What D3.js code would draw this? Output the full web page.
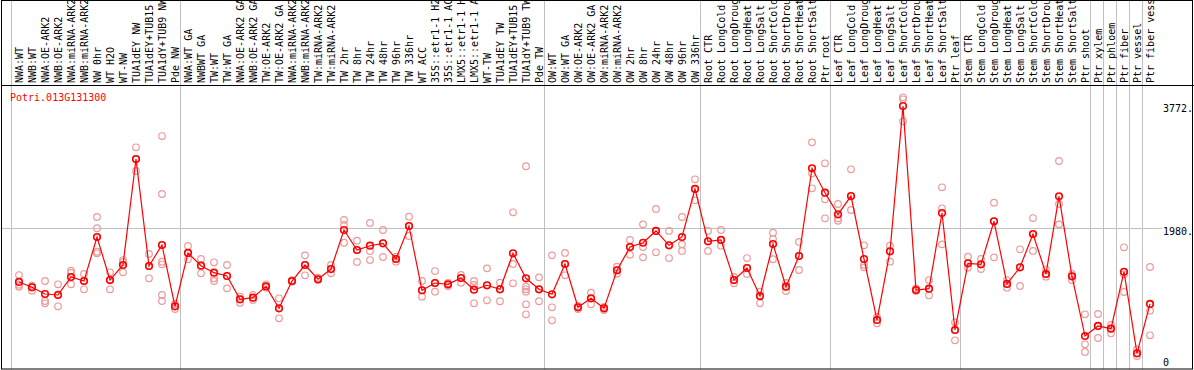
<!DOCTYPE html>
<html>
<head>
<meta charset="utf-8">
<script src="https://cdn.jsdelivr.net/npm/d3@7"></script>
<style>
  body { margin: 0; background: #fff; }
  svg { display: block; }
  text { font-family: "DejaVu Sans Mono", "Liberation Mono", monospace; font-size: 10px; }
</style>
</head>
<body>
<svg width="1194" height="370"></svg>
<script>
// sample names along the top
var categories = ["NWA:WT","NWB:WT","NWA:OE-ARK2","NWB:OE-ARK2","NWA:miRNA-ARK2","NWB:miRNA-ARK2","NW 0hr","WT H2O","WT-NW","TUA1dEY NW","TUA1dEY+TUB15","TUA1dY+TUB9 NW","Pde NW",
  "NWA:WT GA","NWBWT GA","TW:WT","TW:WT GA","NWA:OE-ARK2 GA","NWB:OE-ARK2 GA","TW:OE-ARK2","TW:OE-ARK2 GA","NWA:miRNA-ARK2","NWB:miRNA-ARK2","TW:miRNA-ARK2","TW:miRNA-ARK2","TW 2hr","TW 8hr","TW 24hr","TW 48hr","TW 96hr","TW 336hr","WT ACC","35S::etr1-1 H2","35S::etr1-1 AC","LMX5::etr1-1 H","LMX5::etr1-1 A","WT-TW","TUA1dEY TW","TUA1dEY+TUB15","TUA1dY+TUB9 TW","Pde TW",
  "OW:WT","OW:WT GA","OW:OE-ARK2","OW:OE-ARK2 GA","OW:miRNA-ARK2","OW:miRNA-ARK2","OW 2hr","OW 8hr","OW 24hr","OW 48hr","OW 96hr","OW 336hr",
  "Root CTR","Root LongCold","Root LongDroug","Root LongHeat","Root LongSalt","Root ShortCold","Root ShortDrou","Root ShortHeat","Root ShortSalt","Ptr root",
  "Leaf CTR","Leaf LongCold","Leaf LongDroug","Leaf LongHeat","Leaf LongSalt","Leaf ShortCold","Leaf ShortDrou","Leaf ShortHeat","Leaf ShortSalt","Ptr leaf",
  "Stem CTR","Stem LongCold","Stem LongDroug","Stem LongHeat","Stem LongSalt","Stem ShortCold","Stem ShortDrou","Stem ShortHeat","Stem ShortSalt","Ptr shoot",
  "Ptr xylem","Ptr phloem","Ptr fiber","Ptr vessel","Ptr fiber vess"];

// mean expression per sample
var means = [1200,1123,1026,1012,1272,1214,1850,1228,1445,2977,1431,1734,848,
  1619,1435,1334,1286,949,973,1137,819,1214,1445,1239,1387,1951,1662,1724,1759,1532,2009,1080,1185,1166,1257,1088,1152,1094,1614,1253,1094,
  1022,1460,834,964,819,1369,1705,1767,1937,1730,1850,2544,
  1788,1807,1228,1402,997,1749,1132,1575,2843,2490,
  2178,2442,1532,650,1643,3743,1084,1103,2197,506,
  1470,1455,2077,1171,1412,1893,1315,2438,1282,419,
  564,525,1348,169,882];

// individual replicates per sample
var replicates = [
  [1300,1160,1130],[1146,1074,1127],[1214,925,892],[1166,848,1020],[1363,1330,1166],[1315,1094,1214],[2139,1976,1637,1614],[1340,1094,1228],[1517,1340,1489],[3146,2977,2804],[1604,1253,1431],[3309,2471,1493,1455,1012,925],[882,809,848],
  [1720,1528,1619],[1532,1325,1435],[1484,1253,1214],[1445,1108,1286],[987,900,949],[1012,939,973],[1166,1117,1137],[964,675,819],[1204,1228,1214],[1585,1296,1445],[1262,1228,1239],[1445,1325,1387],[2096,2023,1767],[1796,1489,1662],[2052,1648,1517],[1951,1561,1759],[1565,1493,1532],[2143,1864,2009],[1214,987,1080],[1358,1059,1185],[1185,1142,1166],[1301,1189,1257],[1214,1156,892],[1397,935,1152],[1189,921,1094],[2207,1460,1181],[2872,1132,1094,1059,877,733],[1267,921,1094],
  [1585,834,646],[1619,1296,1460],[853,809,834],[1045,877,964],[838,795,819],[1421,1319,1369],[1807,1594,1705],[2033,1705,1556],[2255,1629,1937],[1937,1546,1730],[2139,1744,1648],[2684,2380,2544],
  [1937,1648,1788],[1951,1724,1807],[1181,1272,1228],[1546,1315,1402],[1059,892,997],[1912,1821,1528],[1185,1069,1132],[1778,1373,1575],[3218,2770,2554],[2915,2395,2120],
  [2327,2120,2085],[2828,2240,2442],[1730,1445,1411],[603,694,650],[1724,1493,1643],[3869,3840,3522],[1108,1069,1084],[1228,1007,1103],[2568,2265,1744],[617,357,506],
  [1565,1406,1470],[1532,1387,1455],[2346,1556,2077],[1228,1117,1171],[1672,1142,1412],[2124,1648,1893],[1383,1276,1315],[2948,2327,2033],[1228,1315,1282],[733,299,188],
  [737,390,564],[578,458,525],[1701,1311,1055],[227,130,169],[1416,785,429]];

// first sample of each block (grey separators)
var groupStarts = [0,13,41,53,63,73,83,84,85,86,87];
var yTicks = [0,1980,3772];
var geneName = "Potri.013G131300";

var width = 1194, height = 370;
var svg = d3.select("svg");

var x = d3.scalePoint()
  .domain(d3.range(categories.length))
  .range([19, 1150]);
var y = d3.scaleLinear()
  .domain([0, 3772])
  .range([365, 104]);

// grey vertical separators
svg.selectAll(".sep")
  .data(groupStarts)
  .enter()
  .append("line")
  .attr("x1", function(d){ return Math.round(x(d) - 8.5) + 0.5; })
  .attr("x2", function(d){ return Math.round(x(d) - 8.5) + 0.5; })
  .attr("y1", 0)
  .attr("y2", 369)
  .attr("stroke", "#c0c0c0")
  .attr("stroke-width", 1);

// horizontal grid at middle tick
svg.append("line")
  .attr("x1", 1).attr("x2", 1162)
  .attr("y1", Math.round(y(yTicks[1])) + 0.5)
  .attr("y2", Math.round(y(yTicks[1])) + 0.5)
  .attr("stroke", "#c0c0c0");

// frame
svg.append("rect")
  .attr("x", 1.5).attr("y", 0.5)
  .attr("width", 1191).attr("height", 368.5)
  .attr("fill", "none")
  .attr("stroke", "#000");
svg.append("line")
  .attr("x1", 1).attr("x2", 1194)
  .attr("y1", 85.5).attr("y2", 85.5)
  .attr("stroke", "#000");

// sample labels
svg.selectAll(".lab")
  .data(categories)
  .enter()
  .append("text")
  .attr("transform", function(d, i){ return "translate(" + (x(i) + 4) + ",83) rotate(-90)"; })
  .attr("fill", "#000")
  .text(function(d){ return d; });

// title
svg.append("text")
  .attr("x", 10).attr("y", 101)
  .attr("fill", "#f00")
  .text(geneName);

// y tick labels
svg.selectAll(".ytick")
  .data(yTicks)
  .enter()
  .append("text")
  .attr("x", 1163)
  .attr("y", function(d){ return Math.min(y(d) + 7.5, 365.5); })
  .attr("fill", "#000")
  .text(function(d){ return d === 0 ? "0" : d + "."; });

// replicates
var repData = [];
replicates.forEach(function(r, i){ r.forEach(function(v){ repData.push({i: i, v: v}); }); });
svg.selectAll(".rep")
  .data(repData)
  .enter()
  .append("circle")
  .attr("cx", function(d){ return x(d.i); })
  .attr("cy", function(d){ return y(d.v); })
  .attr("r", 3.3)
  .attr("fill", "none")
  .attr("stroke", "#eb9a9a")
  .attr("stroke-width", 1.2);

// mean line
var line = d3.line()
  .x(function(d, i){ return x(i); })
  .y(function(d){ return y(d); });
svg.append("path")
  .datum(means)
  .attr("d", line)
  .attr("fill", "none")
  .attr("stroke", "#f00")
  .attr("stroke-width", 1.2);

svg.selectAll(".mean")
  .data(means)
  .enter()
  .append("circle")
  .attr("cx", function(d, i){ return x(i); })
  .attr("cy", function(d){ return y(d); })
  .attr("r", 3.3)
  .attr("fill", "none")
  .attr("stroke", "#f00")
  .attr("stroke-width", 1.6);
</script>
</body>
</html>
